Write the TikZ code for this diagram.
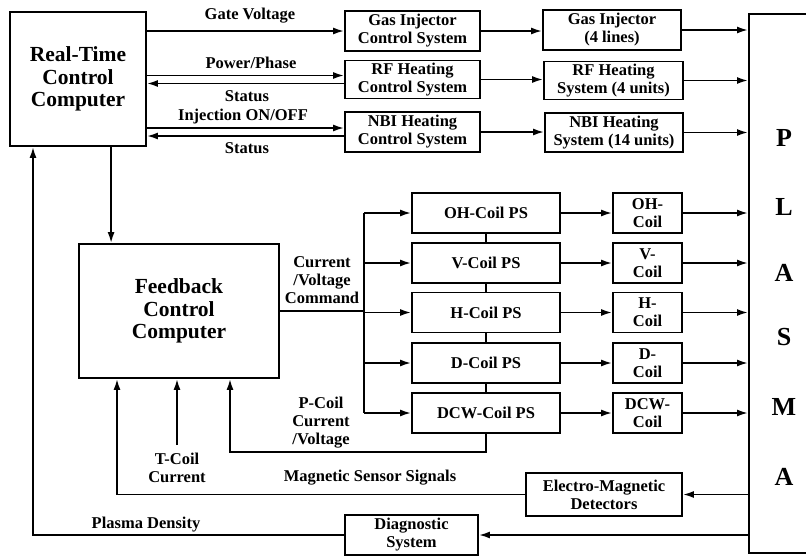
\documentclass[tikz,border=0pt]{standalone}
\usepackage{fontspec}
\setmainfont{Liberation Serif}
\usetikzlibrary{arrows.meta,calc}
\begin{document}
\begin{tikzpicture}[x=1pt,y=-1pt,
  box/.style={draw,line width=1.8pt,inner sep=0pt,align=center,font=\fontsize{16.5}{18}\selectfont\bfseries},
  big/.style={box,font=\fontsize{21.5}{22.5}\selectfont\bfseries},
  lbl/.style={inner sep=0pt,align=center,font=\fontsize{16.5}{18}\selectfont\bfseries},
  ps/.style={box,minimum width=148pt,minimum height=40pt},
  coil/.style={box,minimum width=69pt,minimum height=40pt},
  ln/.style={line width=1.8pt},
  arr/.style={ln,-{Latex[length=11pt,width=7pt]}}]
\useasboundingbox (0,0) rectangle (806,557);
\clip (0,0) rectangle (806,557);
\fill[white] (0,0) rectangle (806,557);

% top section
\node[big,minimum width=136pt,minimum height=134pt] (RT) at (78,79) {Real-Time\\Control\\Computer};
\node[box,minimum width=135pt,minimum height=40pt] (GIC) at (412.5,31) {Gas Injector\\Control System};
\node[box,minimum width=138pt,minimum height=40pt] (GI) at (612,30) {Gas Injector\\(4 lines)};
\node[box,minimum width=135pt,minimum height=38pt] (RFC) at (412.5,79.5) {RF Heating\\Control System};
\node[box,minimum width=139pt,minimum height=38pt] (RF) at (613.5,80.5) {RF Heating\\System (4 units)};
\node[box,minimum width=135pt,minimum height=40pt] (NBIC) at (412.5,132) {NBI Heating\\Control System};
\node[box,minimum width=138pt,minimum height=39pt] (NBI) at (614,132.5) {NBI Heating\\System (14 units)};

\node[draw,line width=1.8pt,anchor=north west,minimum width=150pt,minimum height=539pt,inner sep=0pt] (PL) at (748,13) {};
\foreach \ch/\yy [count=\i] in {P/138,L/207,A/273,S/337,M/407,A/477}
  \node[inner sep=0pt,font=\fontsize{26}{26}\selectfont\bfseries] (L\i) at (784,\yy) {\ch};

\node[lbl] (gv) at (250,16) {Gate Voltage};
\node[lbl] (pp) at (251,63) {Power/Phase};
\node[lbl] (st1) at (247,96) {Status};
\node[lbl] (inj) at (243,117) {Injection ON/OFF};
\node[lbl] (st2) at (247,148) {Status};

\draw[arr] (RT.east |- GIC.west) -- (GIC.west);
\draw[arr] (GIC.east) -- (GIC.east -| GI.west);
\draw[arr] (GI.east) -- (GI.east -| PL.west);
\draw[arr] ($(RT.east |- RFC.west)+(0,-4)$) -- ($(RFC.west)+(0,-4)$);
\draw[arr] ($(RFC.west)+(0,4)$) -- ($(RT.east |- RFC.west)+(0,4)$);
\draw[arr] (RFC.east) -- (RFC.east -| RF.west);
\draw[arr] (RF.east) -- (RF.east -| PL.west);
\draw[arr] ($(RT.east |- NBIC.west)+(0,-4)$) -- ($(NBIC.west)+(0,-4)$);
\draw[arr] ($(NBIC.west)+(0,4)$) -- ($(RT.east |- NBIC.west)+(0,4)$);
\draw[arr] (NBIC.east) -- (NBIC.east -| NBI.west);
\draw[arr] (NBI.east) -- (NBI.east -| PL.west);

% feedback section
\node[big,minimum width=200pt,minimum height=134pt] (FB) at (179,311) {Feedback\\Control\\Computer};
\coordinate (rtd) at ($(RT.south west)+(102,0)$);
\draw[arr] (rtd) -- (rtd |- FB.north);

\node[ps] (OH) at (486,213) {OH-Coil PS};
\node[ps] (V) at (486,263) {V-Coil PS};
\node[ps] (H) at (486,312.5) {H-Coil PS};
\node[ps] (D) at (486,363) {D-Coil PS};
\node[ps] (DCW) at (486,413) {DCW-Coil PS};
\node[coil] (cOH) at (647.5,213) {OH-\\Coil};
\node[coil] (cV) at (647.5,263) {V-\\Coil};
\node[coil] (cH) at (647.5,312.5) {H-\\Coil};
\node[coil] (cD) at (647.5,363) {D-\\Coil};
\node[coil] (cDCW) at (647.5,413) {DCW-\\Coil};

\coordinate (bus) at (364,0);
\draw[ln] (bus |- OH.west) -- (bus |- DCW.west);
\draw[ln] (FB.east) -- (FB.east -| bus);
\foreach \p in {OH,V,H,D,DCW}{
  \draw[arr] (bus |- \p.west) -- (\p.west);
  \draw[arr] (\p.east) -- (\p.east -| c\p.west);
  \draw[arr] (c\p.east) -- (c\p.east -| PL.west);
}
\draw[ln] (OH.south) -- (V.north);
\draw[ln] (V.south) -- (H.north);
\draw[ln] (H.south) -- (D.north);
\draw[ln] (D.south) -- (DCW.north);

\node[lbl] (cvc) at (322,280) {Current\\/Voltage\\Command};
\node[lbl] (pcc) at (321,423) {P-Coil\\Current\\/Voltage};
\coordinate (pc) at (230,452);
\draw[arr] (DCW.south) |- (pc) -- (pc |- FB.south);

\coordinate (tc) at (177,445);
\draw[arr] (tc) -- (tc |- FB.south);
\node[lbl] (tcl) at (177,468) {T-Coil\\Current};

% bottom section
\node[box,minimum width=156pt,minimum height=43pt] (EMD) at (604,494.5) {Electro-Magnetic\\Detectors};
\draw[arr] (PL.west |- EMD.east) -- (EMD.east);
\coordinate (ms) at (117,0);
\draw[arr] (EMD.west) -- (EMD.west -| ms) -- (ms |- FB.south);
\node[lbl] (msl) at (370,478) {Magnetic Sensor Signals};

\node[box,minimum width=133pt,minimum height=40pt] (DG) at (411.5,535) {Diagnostic\\System};
\draw[arr] (PL.west |- DG.east) -- (DG.east);
\coordinate (pd) at (33,0);
\draw[arr] (DG.west) -- (DG.west -| pd) -- (pd |- RT.south);
\node[lbl] (pdl) at (146,525) {Plasma Density};
\end{tikzpicture}
\end{document}
